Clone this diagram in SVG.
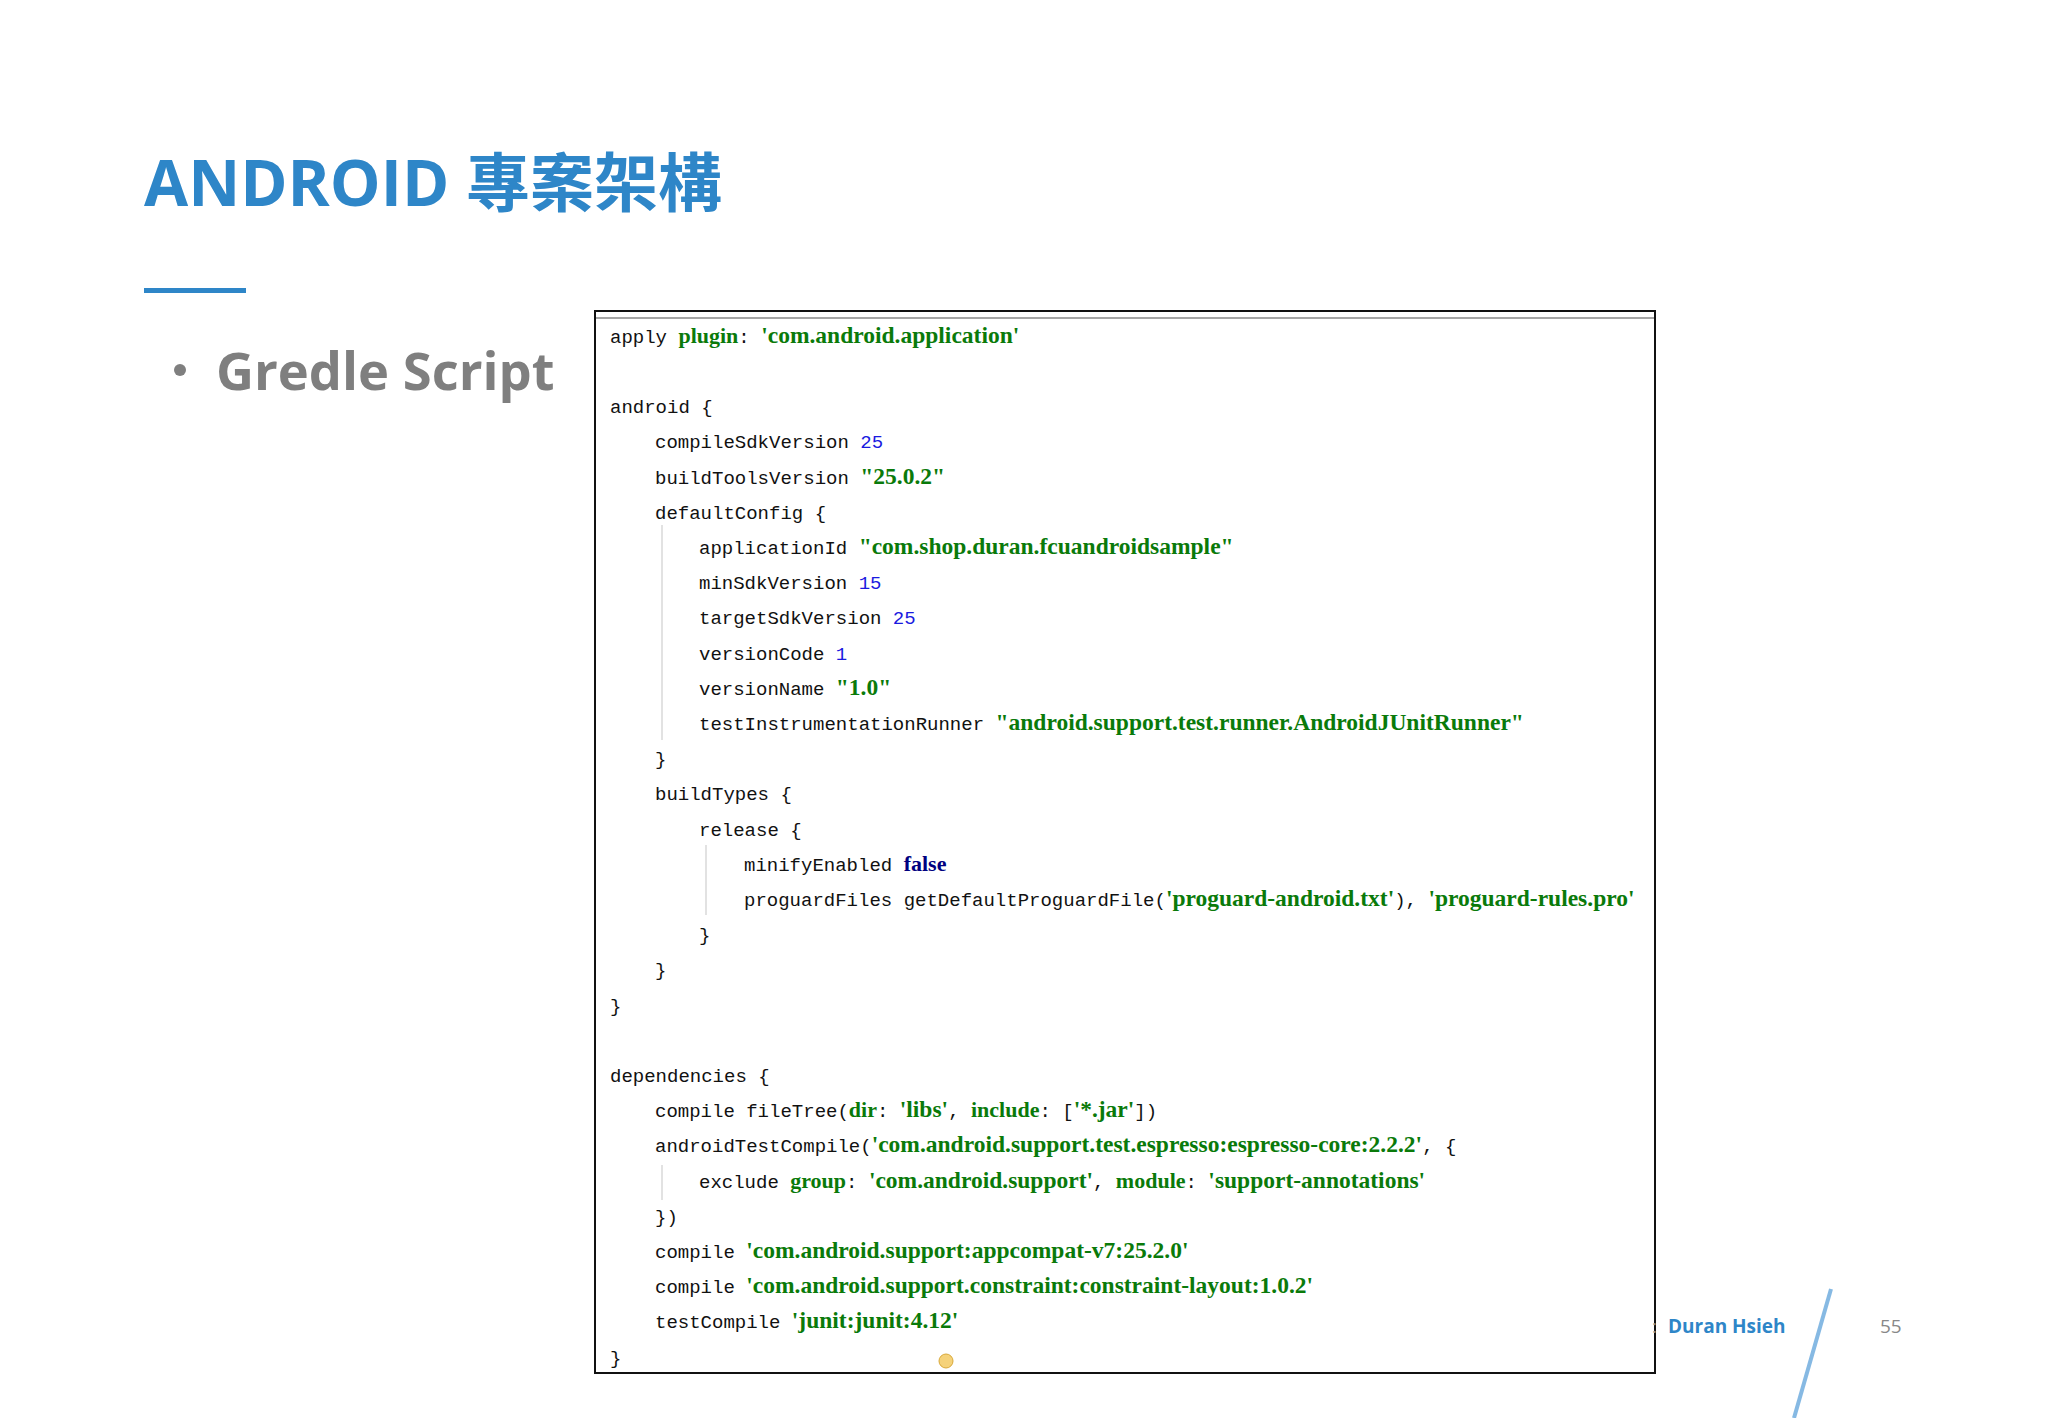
<svg xmlns="http://www.w3.org/2000/svg" width="2048" height="1418" viewBox="0 0 2048 1418">
<style>
.c{font-family:"Liberation Mono",monospace;font-size:19px;fill:#111}
.s{font-family:"Liberation Serif",serif;font-weight:bold;fill:#0a7a0a;font-size:23.5px}
.k{font-family:"Liberation Serif",serif;font-weight:bold;fill:#0a7a0a;font-size:22px}
.n{fill:#1a1ae0}
.f{font-family:"Liberation Serif",serif;font-weight:bold;fill:#000080;font-size:22px}
.g{stroke:#d8d8d8;stroke-width:1.5}
</style>
<rect width="2048" height="1418" fill="#fff"/>
<g id="title">
<text x="144" y="206" font-family="'Open Sans','Noto Sans CJK TC',sans-serif" font-weight="bold" font-size="64" fill="#2E86C8">ANDROID 專案架構</text>
<rect x="144" y="288" width="102" height="5" fill="#2E86C8"/>
</g>
<g id="bullet">
<circle cx="180" cy="370" r="6" fill="#7f7f7f"/>
<text x="216" y="390" font-family="'Open Sans',sans-serif" font-weight="bold" font-size="52.5" fill="#7f7f7f">Gredle Script</text>
</g>
<g id="code">
<rect x="595" y="311" width="1060" height="1062" fill="#fff" stroke="#111" stroke-width="2"/>
<line x1="596" y1="318" x2="1654" y2="318" stroke="#888" stroke-width="1.5"/>
<line class="g" x1="662" y1="525" x2="662" y2="740"/>
<line class="g" x1="706" y1="845" x2="706" y2="915"/>
<line class="g" x1="662" y1="1165" x2="662" y2="1200"/>
<text class="c" x="610" y="343">apply <tspan class="k">plugin</tspan>: <tspan class="s">'com.android.application'</tspan></text>
<text class="c" x="610" y="413">android {</text>
<text class="c" x="655" y="448">compileSdkVersion <tspan class="n">25</tspan></text>
<text class="c" x="655" y="484">buildToolsVersion <tspan class="s">"25.0.2"</tspan></text>
<text class="c" x="655" y="519">defaultConfig {</text>
<text class="c" x="699" y="554">applicationId <tspan class="s">"com.shop.duran.fcuandroidsample"</tspan></text>
<text class="c" x="699" y="589">minSdkVersion <tspan class="n">15</tspan></text>
<text class="c" x="699" y="624">targetSdkVersion <tspan class="n">25</tspan></text>
<text class="c" x="699" y="660">versionCode <tspan class="n">1</tspan></text>
<text class="c" x="699" y="695">versionName <tspan class="s">"1.0"</tspan></text>
<text class="c" x="699" y="730">testInstrumentationRunner <tspan class="s">"android.support.test.runner.AndroidJUnitRunner"</tspan></text>
<text class="c" x="655" y="765">}</text>
<text class="c" x="655" y="800">buildTypes {</text>
<text class="c" x="699" y="836">release {</text>
<text class="c" x="744" y="871">minifyEnabled <tspan class="f">false</tspan></text>
<text class="c" x="744" y="906">proguardFiles getDefaultProguardFile(<tspan class="s">'proguard-android.txt'</tspan>), <tspan class="s">'proguard-rules.pro'</tspan></text>
<text class="c" x="699" y="941">}</text>
<text class="c" x="655" y="976">}</text>
<text class="c" x="610" y="1012">}</text>
<text class="c" x="610" y="1082">dependencies {</text>
<text class="c" x="655" y="1117">compile fileTree(<tspan class="k">dir</tspan>: <tspan class="s">'libs'</tspan>, <tspan class="k">include</tspan>: [<tspan class="s">'*.jar'</tspan>])</text>
<text class="c" x="655" y="1152">androidTestCompile(<tspan class="s">'com.android.support.test.espresso:espresso-core:2.2.2'</tspan>, {</text>
<text class="c" x="699" y="1188">exclude <tspan class="k">group</tspan>: <tspan class="s">'com.android.support'</tspan>, <tspan class="k">module</tspan>: <tspan class="s">'support-annotations'</tspan></text>
<text class="c" x="655" y="1223">})</text>
<text class="c" x="655" y="1258">compile <tspan class="s">'com.android.support:appcompat-v7:25.2.0'</tspan></text>
<text class="c" x="655" y="1293">compile <tspan class="s">'com.android.support.constraint:constraint-layout:1.0.2'</tspan></text>
<text class="c" x="655" y="1328">testCompile <tspan class="s">'junit:junit:4.12'</tspan></text>
<text class="c" x="610" y="1364">}</text>
<circle cx="946" cy="1361" r="7" fill="#f5d27a" stroke="#d9a93a" stroke-width="1"/>
</g>
<g id="footer">
<text x="1652" y="1333" font-family="'Open Sans',sans-serif" font-size="19" fill="#888">:</text>
<text x="1668" y="1333" font-family="'Open Sans',sans-serif" font-weight="bold" font-size="19" fill="#2E86C8">Duran Hsieh</text>
<text x="1880" y="1333" font-family="'Open Sans',sans-serif" font-size="19" fill="#888">55</text>
<line x1="1831" y1="1289" x2="1794" y2="1418" stroke="#86B9E3" stroke-width="4"/>
</g>
</svg>
